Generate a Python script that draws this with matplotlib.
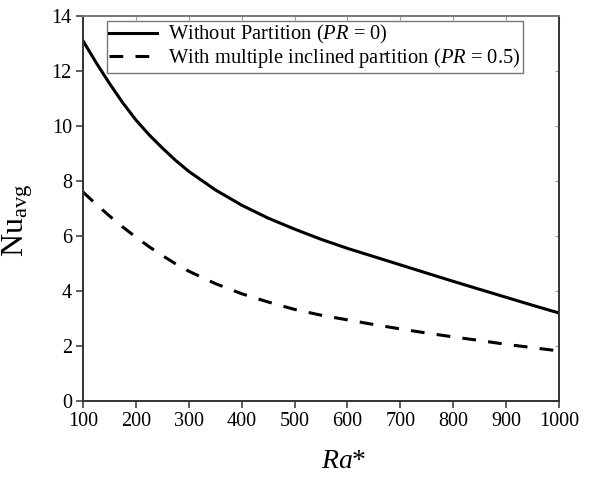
import numpy as np
import matplotlib
matplotlib.use("Agg")
import matplotlib.pyplot as plt

# Fonts: Times-like serif everywhere, mathtext too
plt.rcParams['font.family'] = ['Liberation Serif', 'DejaVu Serif']
plt.rcParams['mathtext.fontset'] = 'custom'
plt.rcParams['mathtext.rm'] = 'Liberation Serif'
plt.rcParams['mathtext.it'] = 'Liberation Serif:italic'

# Data
ra = [100, 125, 150, 175, 200, 225, 250, 275, 300, 350, 400, 450, 500, 550,
      600, 650, 700, 750, 800, 850, 900, 950, 1000]
nu_no_partition = [13.1, 12.3, 11.55, 10.85, 10.22, 9.68, 9.2, 8.75, 8.35, 7.68,
                   7.12, 6.65, 6.25, 5.88, 5.55, 5.25, 4.95, 4.65, 4.35, 4.06,
                   3.77, 3.48, 3.2]
nu_partition = [7.6, 7.15, 6.73, 6.33, 5.96, 5.61, 5.29, 4.99, 4.72, 4.27,
                3.9, 3.6, 3.33, 3.12, 2.95, 2.78, 2.62, 2.47, 2.33, 2.2,
                2.06, 1.94, 1.82]

labels = ['Without Partition ($\\it{PR}$ = 0)',
          'With multiple inclined partition ($\\it{PR}$ = 0.5)']

xticks = np.arange(100, 1001, 100)
yticks = np.arange(0, 15, 2)

fig = plt.figure(figsize=(5.91, 4.80), dpi=100)
ax = fig.add_axes([0.1404, 0.1646, 0.8055, 0.8021])

ax.plot(ra, nu_no_partition, color='black', lw=2.2, ls='-', label=labels[0])
ax.plot(ra, nu_partition, color='black', lw=2.2, ls=(0, (4.5, 4)), label=labels[1])

ax.set_xlim(100, 1000)
ax.set_ylim(0, 14)
ax.set_xticks(xticks)
ax.set_yticks(yticks)
ax.tick_params(axis='both', which='major', direction='out', length=5, width=1.1,
               colors='#333333', labelcolor='black', labelsize=14.5, pad=3)

# small inward ticks on top and right
sec_x = ax.secondary_xaxis('top')
sec_x.set_xticks(xticks)
sec_x.tick_params(direction='in', length=3, width=0.8, colors='#999999', labeltop=False)
sec_x.set_xticklabels([])
sec_y = ax.secondary_yaxis('right')
sec_y.set_yticks(yticks)
sec_y.tick_params(direction='in', length=3, width=0.8, colors='#999999')
sec_y.set_yticklabels([])
sec_x.spines['top'].set_visible(False)
sec_y.spines['right'].set_visible(False)

for side in ['left', 'bottom', 'right', 'top']:
    ax.spines[side].set_linewidth(1.4)
    ax.spines[side].set_color('#333333')
ax.spines['top'].set_color('#777777')

ax.set_xlabel('$\\it{Ra}$*', fontsize=20)
ax.xaxis.set_label_coords(0.548, -0.125)
ax.set_ylabel('$\\mathrm{Nu}_{\\mathrm{avg}}$', fontsize=23)
ax.yaxis.set_label_coords(-0.1, 0.47)

leg = ax.legend(loc='upper left', bbox_to_anchor=(0.05, 0.987), fontsize=14.8,
                frameon=True, fancybox=False, handlelength=2.3, borderpad=0.12,
                labelspacing=0.0, handletextpad=0.55, borderaxespad=0.0)
leg.get_frame().set_edgecolor('#555555')
leg.get_frame().set_linewidth(1.0)

fig.savefig('out.png', dpi=100)
